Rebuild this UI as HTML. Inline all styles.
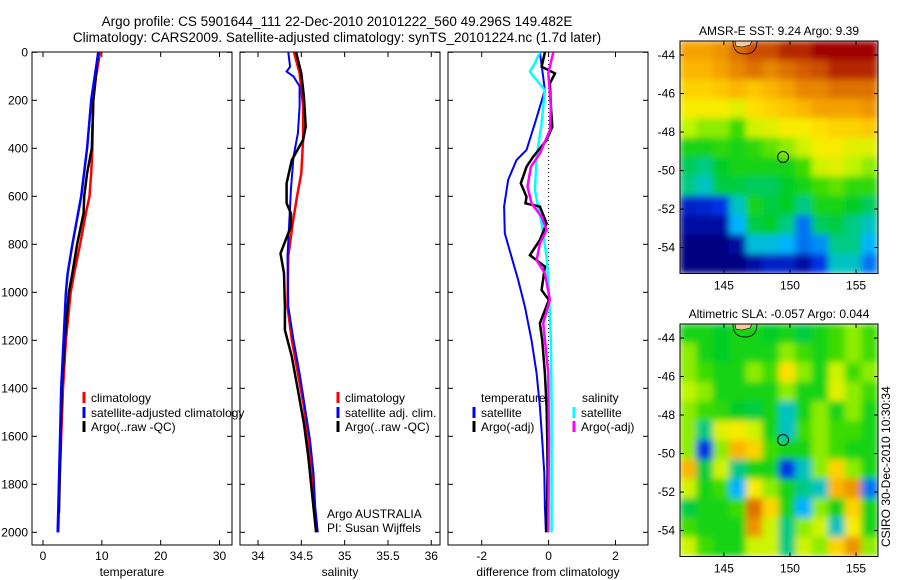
<!DOCTYPE html>
<html><head><meta charset="utf-8"><style>
html,body{margin:0;padding:0;background:#fff;}
svg{display:block;font-family:"Liberation Sans",sans-serif;}
</style></head><body>
<svg id="fig" width="900" height="580" viewBox="0 0 900 580">
<defs><filter id="bl" x="0" y="0" width="100%" height="100%"><feGaussianBlur stdDeviation="3.5" edgeMode="duplicate"/></filter>
<clipPath id="c1"><rect x="680" y="41" width="198" height="232"/></clipPath>
<clipPath id="c2"><rect x="680" y="324" width="198" height="233"/></clipPath></defs>
<text x="337" y="26" font-size="13.5" text-anchor="middle">Argo profile: CS 5901644_111 22-Dec-2010 20101222_560 49.296S 149.482E</text>
<text x="337" y="42" font-size="13.5" text-anchor="middle">Climatology: CARS2009. Satellite-adjusted climatology: synTS_20101224.nc (1.7d later)</text>
<g id="g"></g>
</svg>
<script>
// ---- profile data (pressure dbar) ----
const tP=[0,100,200,300,400,504,600,670,800,920,1000,1200,1400,1600,1800,2000];
const tClim=[9.7,9.0,8.55,8.45,8.4,8.2,7.9,7.3,6.3,5.3,4.7,3.9,3.4,3.1,2.8,2.6];
const tSatP=[0,200,400,600,800,920,1000,1200,1400,1600,1800,2000];
const tSat=[9.4,8.2,7.5,6.5,5.0,4.2,3.9,3.5,3.1,2.9,2.7,2.5];
const tArgoP=[0,200,400,504,600,670,800,920,1000,1200,1400,1600,1800,1920];
const tArgo=[9.4,8.55,8.3,7.5,7.0,6.9,5.8,5.0,4.4,3.7,3.2,3.0,2.8,2.7];
const sP=[0,87,226,365,504,601,713,851,1060,1199,1338,1476,1615,1754,1893,2000];
const sClim=[34.415,34.48,34.52,34.52,34.50,34.45,34.40,34.35,34.34,34.39,34.46,34.53,34.58,34.62,34.65,34.67];
const sSatP=[0,60,80,101,142,226,337,435,574,713,851,1060,1199,1338,1476,1615,1754,1893,2000];
const sSat=[34.35,34.37,34.33,34.41,34.48,34.48,34.46,34.41,34.38,34.36,34.34,34.35,34.41,34.48,34.54,34.60,34.64,34.66,34.69];
const sArgoP=[0,87,184,310,365,449,546,629,671,726,838,921,1060,1157,1268,1407,1546,1685,1824,2000];
const sArgo=[34.44,34.50,34.53,34.55,34.52,34.39,34.33,34.33,34.38,34.38,34.26,34.30,34.31,34.31,34.39,34.46,34.53,34.58,34.62,34.67];
const dTSatP=[0,157,296,407,449,532,643,754,852,949,1060,1199,1338,1477,1616,1754,1893,2000];
const dTSat=[-0.26,-0.11,-0.41,-0.66,-0.96,-1.21,-1.33,-1.31,-1.11,-0.91,-0.71,-0.51,-0.36,-0.26,-0.19,-0.13,-0.11,-0.08];
const dTArgoP=[0,32,60,88,129,227,310,366,435,477,546,602,629,643,713,782,845,893,991,1032,1129,1199,1338,1477,1616,1754,2000];
const dTArgo=[-0.11,-0.16,-0.21,0.19,0.04,0.07,0.11,-0.06,-0.46,-0.66,-0.83,-0.66,-0.69,-0.26,-0.06,-0.26,-0.56,-0.11,-0.21,0.01,-0.26,-0.19,-0.11,-0.06,-0.04,-0.03,-0.06];
const dSSatP=[0,46,81,116,157,296,435,574,713,852,991,1199,1477,1754,2000];
const dSSat=[-0.26,-0.41,-0.56,-0.36,-0.11,-0.21,-0.36,-0.41,-0.21,-0.06,0.01,0.07,0.09,0.09,0.09];
const dSArgoP=[0,88,227,324,421,477,560,629,685,741,796,866,921,1032,1129,1338,1616,2000];
const dSArgo=[0.14,-0.01,0.07,0.04,-0.26,-0.53,-0.63,-0.51,-0.21,-0.06,-0.26,-0.36,-0.11,0.04,-0.16,-0.01,0.01,-0.01];
// ---- map data (rows north->south, cols west->east), normalized colour index ----
const sstGrid=[
[.78,.78,.8,.85,.9,.9,.95,.95,1,1,1,1],
[.75,.75,.78,.82,.85,.82,.85,.88,.9,.95,.95,.95],
[.7,.7,.72,.75,.72,.75,.78,.82,.82,.85,.85,.85],
[.65,.65,.65,.62,.68,.7,.72,.75,.78,.78,.78,.8],
[.58,.55,.55,.5,.6,.62,.65,.65,.68,.7,.7,.72],
[.45,.45,.48,.45,.48,.52,.55,.6,.65,.65,.62,.62],
[.38,.35,.42,.45,.45,.45,.45,.5,.6,.62,.58,.55],
[.35,.3,.4,.4,.38,.38,.42,.45,.5,.52,.48,.48],
[.1,.12,.15,.3,.45,.4,.42,.35,.45,.45,.42,.38],
[.05,.05,.05,.25,.4,.42,.35,.2,.38,.4,.35,.3],
[0,0,0,.05,.28,.28,.25,.2,.22,.35,.35,.25],
[0,0,0,0,.05,.1,.1,.05,.15,.3,.3,.2]];
const slaGrid=[
[.45,.45,.42,.45,.45,.42,.45,.4,.45,.5,.55,.5],
[.55,.45,.42,.45,.45,.45,.55,.5,.45,.5,.55,.5],
[.55,.5,.45,.45,.55,.5,.68,.55,.45,.6,.5,.55],
[.58,.55,.45,.45,.45,.45,.55,.45,.45,.62,.55,.5],
[.55,.5,.48,.42,.4,.45,.3,.45,.55,.45,.55,.45],
[.55,.35,.62,.65,.6,.45,.3,.5,.55,.5,.5,.45],
[.55,.15,.55,.75,.7,.5,.45,.45,.55,.5,.45,.45],
[.75,.4,.6,.35,.45,.45,.15,.3,.55,.7,.55,.45],
[.6,.45,.5,.25,.65,.55,.45,.35,.3,.75,.8,.2],
[.4,.45,.45,.5,.85,.7,.45,.25,.55,.45,.7,.45],
[.5,.45,.45,.45,.8,.6,.35,.55,.6,.3,.65,.45],
[.6,.5,.45,.45,.6,.6,.35,.6,.55,.7,.8,.55]];
const argoLon=149.48, argoLat=-49.3;
const tTicks=[0,10,20,30], sTicks=[34,34.5,35,35.5,36], dTicks=[-2,0,2];
const pTicks=[0,200,400,600,800,1000,1200,1400,1600,1800,2000];
const latTicks=[-44,-46,-48,-50,-52,-54], lonTicks=[145,150,155];

const NS='http://www.w3.org/2000/svg', G=document.getElementById('g');
function mk(tag,at,parent){const e=document.createElementNS(NS,tag);for(const k in at)e.setAttribute(k,at[k]);(parent||G).appendChild(e);return e;}
const yP=p=>52.3+p*0.24;
function lin(d0,d1,r0,r1){return v=>r0+(v-d0)*(r1-r0)/(d1-d0);}
const panels=[
 {x0:32,x1:232,f:lin(0,30,43,219.5),ticks:tTicks,lab:'temperature',name:'temperature-panel'},
 {x0:240,x1:440,f:lin(34,36,258,431.3),ticks:sTicks,lab:'salinity',name:'salinity-panel'},
 {x0:448,x1:648,f:lin(-2,2,481.7,615.5),ticks:dTicks,lab:'difference from climatology',name:'difference-panel'}];
panels.forEach((pn,i)=>{
 const g=mk('g',{});
 
 
 const r=mk('rect',{x:pn.x0,y:52,width:pn.x1-pn.x0,height:493,fill:'none',stroke:'#000','stroke-width':1},g);
 
 
 pTicks.forEach(p=>{const y=yP(p);
  mk('line',{x1:pn.x0,x2:pn.x0+5,y1:y,y2:y,stroke:'#000'},g);
  mk('line',{x1:pn.x1-5,x2:pn.x1,y1:y,y2:y,stroke:'#000'},g);
  if(i===0){const t=mk('text',{x:28,y:y+4,'font-size':12,'text-anchor':'end'},g);t.textContent=p;
   
   }
 });
 pn.ticks.forEach(v=>{const x=pn.f(v);
  mk('line',{x1:x,x2:x,y1:52,y2:57,stroke:'#000'},g);
  mk('line',{x1:x,x2:x,y1:540,y2:545,stroke:'#000'},g);
  const t=mk('text',{x:x,y:560,'font-size':12,'text-anchor':'middle'},g);t.textContent=v;
  
  
 });
 const t=mk('text',{x:(pn.x0+pn.x1)/2,y:576,'font-size':12,'text-anchor':'middle'},g);t.textContent=pn.lab;
 
 
});
function line(P,V,pn,col,w,name){const d=P.map((p,k)=>(k?'L':'M')+pn.f(V[k]).toFixed(1)+','+yP(p).toFixed(1)).join('');
 const e=mk('path',{d:d,fill:'none',stroke:col,'stroke-width':w,'stroke-linejoin':'miter'});
 
 }
const [P1,P2,P3]=panels;
line(tP,tClim,P1,'#f00',2.5,'temperature-climatology-line');
line(tArgoP,tArgo,P1,'#000',2.5,'temperature-argo-line');
line(tSatP,tSat,P1,'#00f',2.5,'temperature-satellite-line');
line(sP,sClim,P2,'#f00',2.5,'salinity-climatology-line');
line(sSatP,sSat,P2,'#00f',2,'salinity-satellite-line');
line(sArgoP,sArgo,P2,'#000',2.5,'salinity-argo-line');
const z=mk('line',{x1:P3.f(0),x2:P3.f(0),y1:52,y2:532,stroke:'#000','stroke-dasharray':'1,3'});


line(dTSatP,dTSat,P3,'#00f',2,'diff-temperature-satellite-line');
line(dSSatP,dSSat,P3,'#0ff',2.5,'diff-salinity-satellite-line');
line(dTArgoP,dTArgo,P3,'#000',2.5,'diff-temperature-argo-line');
line(dSArgoP,dSArgo,P3,'#f0f',2.5,'diff-salinity-argo-line');
function txt(x,y,s,name,extra){const t=mk('text',Object.assign({x:x,y:y,'font-size':12},extra||{}));t.textContent=s;
 
 return t;}
function leg(x,y,col,s){const b=mk('rect',{x:x-1.5,y:y-10,width:3,height:11,fill:col});
 
 
 if(s)txt(x+7,y,s,'legend-entry');}
leg(84,402,'#f00','climatology');leg(84,417,'#00f','satellite-adjusted climatology');leg(84,431,'#000','Argo(..raw -QC)');
leg(338,402,'#f00','climatology');leg(338,417,'#00f','satellite adj. clim.');leg(338,431,'#000','Argo(..raw -QC)');
txt(327,518,'Argo AUSTRALIA','institution-label');txt(327,532,'PI: Susan Wijffels','pi-label');
txt(481,402,'temperature','legend-heading');txt(582,402,'salinity','legend-heading');
leg(474,417,'#00f','satellite');leg(474,431,'#000','Argo(-adj)');leg(574,417,'#0ff','satellite');leg(574,431,'#f0f','Argo(-adj)');
// ---- colormap ----
const stops=[[0,[0,0,128]],[.15,[0,50,230]],[.25,[0,180,255]],[.32,[0,200,170]],[.42,[0,205,40]],[.5,[60,220,0]],[.58,[190,245,0]],[.66,[255,235,0]],[.76,[250,175,0]],[.87,[215,100,0]],[1,[160,0,0]]];
function cmap(v){for(let i=1;i<stops.length;i++){if(v<=stops[i][0]){const a=stops[i-1],b=stops[i],t=(v-a[0])/(b[0]-a[0]);return 'rgb('+a[1].map((c,k)=>Math.round(c+(b[1][k]-c)*t)).join(',')+')';}}return 'rgb(160,0,0)';}
function map(top,grid,clip,title,name,lab){
 const g=mk('g',{});
 
 
 const L=680,R=878,B=top+232.5,fx=lin(141.68,156.66,L,R),fy=lin(-43.27,-55.35,top,B);
 const hm=mk('g',{'clip-path':'url(#'+clip+')'},g);
 const inner=mk('g',{filter:'url(#bl)'},hm);
 const nr=grid.length,nc=grid[0].length,cw=(R-L)/nc,ch=(B-top)/nr;
 grid.forEach((row,ri)=>row.forEach((v,ci)=>{const c=mk('rect',{x:L+ci*cw-0.3,y:top+ri*ch-0.3,width:cw+0.6,height:ch+0.6,fill:cmap(v)},inner);
  
  }));
 const coast=mk('path',{d:`M735,${top} L736,${top+5} L742,${top+6} L750,${top+4} L752,${top}Z`,fill:'#f5c8a0',stroke:'#000','stroke-width':0.6},hm);
 
 
 mk('path',{d:`M733,${top} Q733,${top+13} 745,${top+13} Q757,${top+13} 757,${top}`,fill:'none',stroke:'#000','stroke-width':0.8},hm);
 const ac=mk('circle',{cx:fx(argoLon),cy:fy(argoLat),r:5.5,fill:'none',stroke:'#000','stroke-width':1});
 
 
 g.appendChild(ac);
 mk('rect',{x:L,y:top,width:R-L,height:B-top,fill:'none',stroke:'#000'},g);
 latTicks.forEach(v=>{const y=fy(v);mk('line',{x1:L,x2:L+4,y1:y,y2:y,stroke:'#000'},g);mk('line',{x1:R-4,x2:R,y1:y,y2:y,stroke:'#000'},g);
  const t=mk('text',{x:L-5,y:y+4,'font-size':12,'text-anchor':'end'},g);t.textContent=v;
  
  });
 lonTicks.forEach(v=>{const x=fx(v);mk('line',{x1:x,x2:x,y1:top,y2:top+4,stroke:'#000'},g);mk('line',{x1:x,x2:x,y1:B-4,y2:B,stroke:'#000'},g);
  const t=mk('text',{x:x,y:B+16,'font-size':12,'text-anchor':'middle'},g);t.textContent=v;
  
  });
 const t=mk('text',{x:779,y:top-6,'font-size':12,'text-anchor':'middle'},g);t.textContent=title;
 
 
}
map(41,sstGrid,'c1','AMSR-E SST: 9.24  Argo: 9.39','sst-map','sst-map-title');
map(324,slaGrid,'c2','Altimetric SLA: -0.057  Argo: 0.044','sla-map','sla-map-title');
txt(0,0,'CSIRO 30-Dec-2010 10:30:34','timestamp-label',{transform:'translate(890,547) rotate(-90)'});
</script>
</body></html>
